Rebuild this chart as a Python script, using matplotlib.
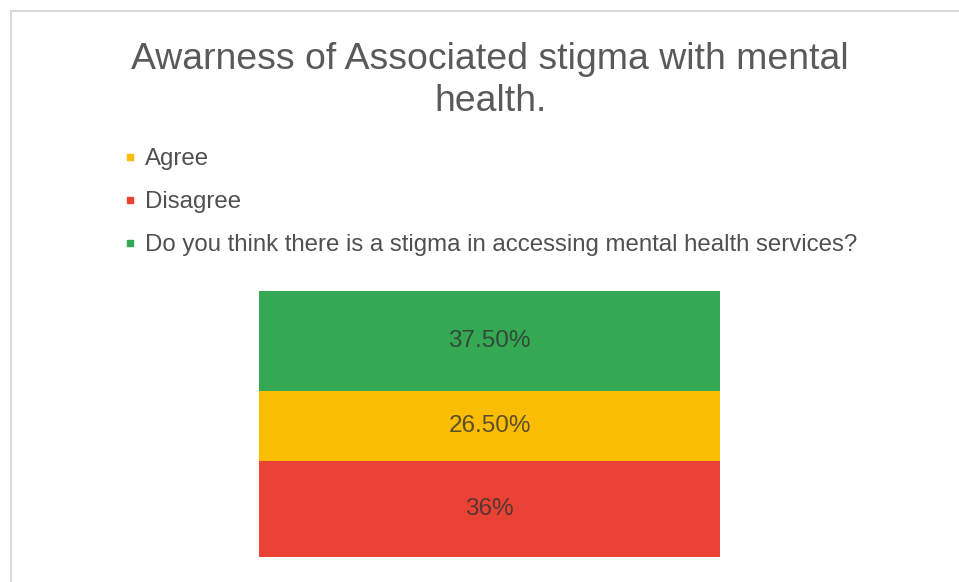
import matplotlib
matplotlib.use("Agg")
import matplotlib.pyplot as plt
from matplotlib.lines import Line2D

plt.rcParams['font.family'] = ['Liberation Sans', 'DejaVu Sans']

# Data
title = "Awarness of Associated stigma with mental\nhealth."
series_names = ["Agree", "Disagree",
                "Do you think there is a stigma in accessing mental health services?"]
series_colors = ["#FBBC04", "#EA4335", "#34A853"]
# stacking order bottom -> top
stack_order = ["Disagree", "Agree",
               "Do you think there is a stigma in accessing mental health services?"]
values = {"Disagree": 36.0, "Agree": 26.5,
          "Do you think there is a stigma in accessing mental health services?": 37.5}
value_labels = {"Disagree": "36%", "Agree": "26.50%",
                "Do you think there is a stigma in accessing mental health services?": "37.50%"}

W, H = 959, 582
fig = plt.figure(figsize=(W / 100, H / 100), dpi=100)
fig.patch.set_facecolor("white")

# outer frame (left and top edges visible)
fig.add_artist(Line2D([10.5 / W, 10.5 / W], [0, 1 - 11 / H], color="#d9d9d9", lw=1.5))
fig.add_artist(Line2D([10.5 / W, 1], [1 - 11 / H, 1 - 11 / H], color="#d9d9d9", lw=1.5))

ax = fig.add_axes([259 / W, (H - 557) / H, (720 - 259) / W, (557 - 291) / H])
color_map = dict(zip(series_names, series_colors))
bottom = 0.0
for name in stack_order:
    v = values[name]
    ax.bar(0, v, width=1.0, bottom=bottom, color=color_map[name], edgecolor="none")
    ax.text(0, bottom + v / 2, value_labels[name], ha="center", va="center",
            fontsize=17.5, color="#333333", alpha=0.8)
    bottom += v
ax.set_xlim(-0.5, 0.5)
ax.set_ylim(0, 100)
ax.axis("off")

fig.text(490 / W, 1 - 80.5 / H, title, ha="center", va="center",
         fontsize=26.9, color="#5a5a5a", linespacing=1.25)

handles = [Line2D([], [], marker="s", linestyle="none", markersize=4.5,
                  color=c) for c in series_colors]
leg = fig.legend(handles, series_names, loc="upper left",
                 bbox_to_anchor=(125.5 / W, 1 - 148.5 / H), frameon=False,
                 fontsize=17.3, handlelength=0.4, handletextpad=0.4,
                 labelspacing=0.87, borderaxespad=0, borderpad=0)
for t in leg.get_texts():
    t.set_color("#505050")

fig.savefig("out.png", dpi=100, facecolor="white")
